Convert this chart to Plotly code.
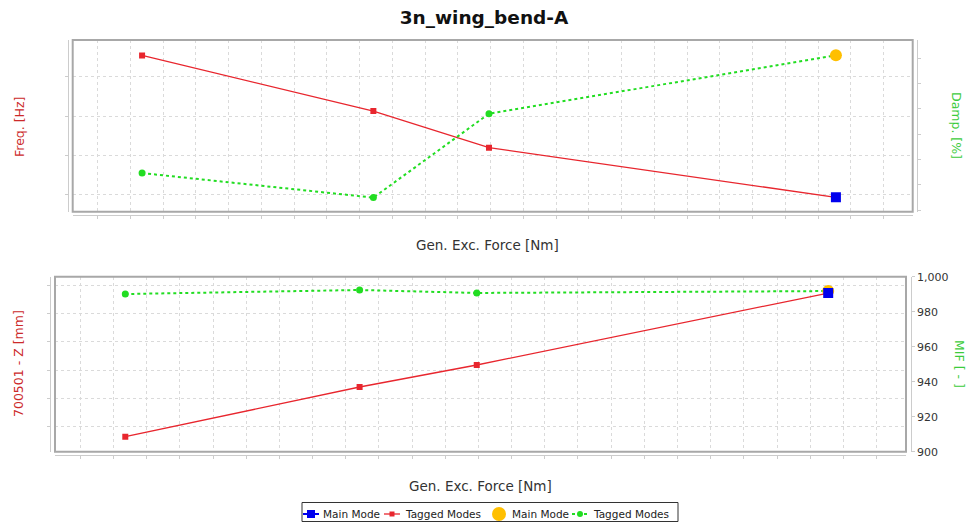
import plotly.graph_objects as go

# Excitation levels (Gen. Exc. Force, Nm)
force = [0.5, 1.0, 1.25, 2.0]

# Upper panel: frequency and damping of the tagged modes
freq_hz = [12.354, 12.213, 12.120, 11.994]
damp_pct = [1.146, 1.049, 1.381, 1.612]

# Lower panel: response at node 700501 (Z) and mode indicator function
disp_mm = [1.647, 3.401, 4.177, 6.717]
mif = [990.1, 992.4, 990.7, 991.8]

# Index of the main mode within the sweep
main_idx = 3

# Legend labels
legend_names = ["Main Mode", "Tagged Modes", "Main Mode", "Tagged Modes"]

W, H = 968, 522
FONT = "DejaVu Sans"
RED = "#e8262e"
GREEN = "#22dd22"
BLUE = "#0000ee"
ORANGE = "#ffbf00"
GRID = "#dadada"
AXLINE = "#cccccc"


def px_x(p):
    return p / W


def px_y(p):
    return 1 - p / H


fig = go.Figure()

# ---- upper panel ----
fig.add_trace(go.Scatter(
    x=force, y=freq_hz, xaxis="x", yaxis="y", mode="lines+markers",
    name=legend_names[1], showlegend=False,
    line=dict(color=RED, width=1.3),
    marker=dict(symbol="square", size=6, color=RED)))
fig.add_trace(go.Scatter(
    x=force, y=damp_pct, xaxis="x", yaxis="y2", mode="lines+markers",
    name=legend_names[3], showlegend=False,
    line=dict(color=GREEN, width=2, dash="dot"),
    marker=dict(symbol="circle", size=7, color=GREEN)))
fig.add_trace(go.Scatter(
    x=[force[main_idx]], y=[freq_hz[main_idx]], xaxis="x", yaxis="y",
    mode="markers", name=legend_names[0], showlegend=False,
    marker=dict(symbol="square", size=10, color=BLUE)))
fig.add_trace(go.Scatter(
    x=[force[main_idx]], y=[damp_pct[main_idx]], xaxis="x", yaxis="y2",
    mode="markers", name=legend_names[2], showlegend=False,
    marker=dict(symbol="circle", size=12, color=ORANGE)))

# ---- lower panel (MIF on the base axis, displacement overlaid on top) ----
fig.add_trace(go.Scatter(
    x=force, y=mif, xaxis="x2", yaxis="y3", mode="lines+markers",
    showlegend=False,
    line=dict(color=GREEN, width=2, dash="dot"),
    marker=dict(symbol="circle", size=7, color=GREEN)))
fig.add_trace(go.Scatter(
    x=[force[main_idx]], y=[mif[main_idx]], xaxis="x2", yaxis="y3",
    mode="markers", showlegend=False,
    marker=dict(symbol="circle", size=12, color=ORANGE)))
fig.add_trace(go.Scatter(
    x=force, y=disp_mm, xaxis="x2", yaxis="y4", mode="lines+markers",
    showlegend=False,
    line=dict(color=RED, width=1.3),
    marker=dict(symbol="square", size=6, color=RED)))
fig.add_trace(go.Scatter(
    x=[force[main_idx]], y=[disp_mm[main_idx]], xaxis="x2", yaxis="y4",
    mode="markers", showlegend=False,
    marker=dict(symbol="square", size=10, color=BLUE)))

x_range = [0.35, 2.166]
x_common = dict(
    range=x_range, tick0=0.404, dtick=0.0708, showticklabels=False,
    showgrid=True, gridcolor=GRID, griddash="dot", gridwidth=1,
    ticks="outside", ticklen=3, tickcolor=AXLINE,
    showline=True, linecolor=AXLINE, linewidth=1, zeroline=False,
    anchor="free")
y_common = dict(
    showline=True, linecolor=AXLINE, linewidth=1, zeroline=False,
    ticks="outside", ticklen=3, tickcolor=AXLINE, anchor="free")

top_dom = [px_y(211.7), px_y(40)]
bot_dom = [px_y(451.7), px_y(276.7)]

fig.update_layout(
    width=W, height=H,
    margin=dict(l=0, r=0, t=0, b=0, pad=0, autoexpand=False),
    paper_bgcolor="white", plot_bgcolor="white",
    showlegend=False,
    font=dict(family=FONT, size=11, color="#333333"),
    title=dict(text="<b>3n_wing_bend-A</b>", x=0.5, xanchor="center",
               y=px_y(18), yanchor="middle",
               font=dict(family=FONT, size=18.5, color="#111111")),
    xaxis=dict(domain=[px_x(72.7), px_x(912.7)], position=px_y(215),
               **x_common),
    yaxis=dict(domain=top_dom, range=[11.9576, 12.3931], tick0=12.0,
               dtick=0.1, showticklabels=False, showgrid=True,
               gridcolor=GRID, griddash="dot", position=px_x(68),
               **y_common),
    yaxis2=dict(overlaying="y", side="right", range=[0.9933, 1.6725],
                tick0=1.0, dtick=0.1, showticklabels=False, showgrid=False,
                position=px_x(916.7), **y_common),
    xaxis2=dict(domain=[px_x(55), px_x(906)], position=px_y(455),
                **x_common),
    yaxis3=dict(domain=bot_dom, side="right", range=[900, 1000],
                tick0=900, dtick=20, tickformat=",", showgrid=False,
                tickfont=dict(family=FONT, size=11, color="#333333"),
                position=px_x(910.7), **y_common),
    yaxis4=dict(overlaying="y3", side="left", range=[1.118, 7.293],
                tick0=2, dtick=1, showticklabels=False, showgrid=True,
                gridcolor=GRID, griddash="dot", position=px_x(50),
                **y_common),
)

# Plot-area frames
for xr, yr in (("x domain", "y domain"), ("x2 domain", "y3 domain")):
    fig.add_shape(type="rect", xref=xr, yref=yr, x0=0, x1=1, y0=0, y1=1,
                  line=dict(color="#a8a8a8", width=2), layer="above")

# Axis titles
titles = [
    ("Freq. [Hz]", 19, 127, -90, "#cc2a2a", 12.5),
    ("Damp. [%]", 957, 125, 90, "#3ccc3c", 12.5),
    ("Gen. Exc. Force [Nm]", 487, 245, 0, "#333333", 13.5),
    ("700501 - Z [mm]", 18, 364, -90, "#cc2a2a", 12.5),
    ("MIF [ - ]", 960, 364, 90, "#3ccc3c", 12.5),
    ("Gen. Exc. Force [Nm]", 480, 486, 0, "#333333", 13.5),
]
for text, cx, cy, ang, col, fs in titles:
    fig.add_annotation(text=text, xref="paper", yref="paper",
                       x=px_x(cx), y=px_y(cy), xanchor="center",
                       yanchor="middle", textangle=ang, showarrow=False,
                       font=dict(family=FONT, size=fs, color=col))

# Compact legend strip along the bottom edge
LEG_Y = 514
fig.add_shape(type="rect", xref="paper", yref="paper",
              x0=px_x(302), x1=px_x(678), y0=px_y(521.5), y1=px_y(502.5),
              line=dict(color="#333333", width=1), fillcolor="white")
legend_items = [
    # (icon centre, line half-length, line style, marker, colour, text x)
    (311, 8.0, dict(width=2), ("square", 4), BLUE, 321),
    (392, 8.0, dict(width=1.3), ("square", 2.5), RED, 403),
    (499, 0.0, None, ("circle", 7), ORANGE, 510),
    (580, 8.0, dict(width=2, dash="dot"), ("circle", 3), GREEN, 591),
]
for (cx, half, lstyle, (sym, r), col, tx), name in zip(legend_items,
                                                       legend_names):
    if lstyle is not None:
        fig.add_shape(type="line", xref="paper", yref="paper",
                      x0=px_x(cx - half), x1=px_x(cx + half),
                      y0=px_y(LEG_Y), y1=px_y(LEG_Y),
                      line=dict(color=col, **lstyle))
    fig.add_shape(type="rect" if sym == "square" else "circle",
                  xref="paper", yref="paper",
                  x0=px_x(cx - r), x1=px_x(cx + r),
                  y0=px_y(LEG_Y + r), y1=px_y(LEG_Y - r),
                  line=dict(color=col, width=0), fillcolor=col)
    fig.add_annotation(text=name, xref="paper", yref="paper",
                       x=px_x(tx), y=px_y(LEG_Y), xanchor="left",
                       yanchor="middle", showarrow=False,
                       font=dict(family=FONT, size=10.5, color="#222222"))

fig.write_html("out.html")
